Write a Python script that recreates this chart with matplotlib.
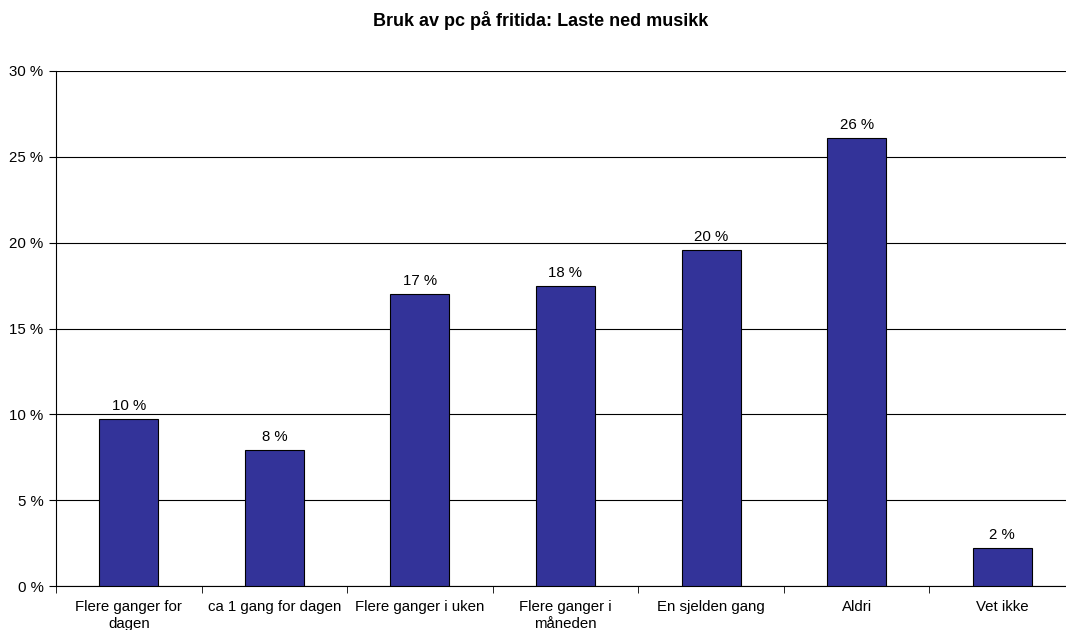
import matplotlib.pyplot as plt
import numpy as np

categories = ["Flere ganger for\ndagen", "ca 1 gang for dagen", "Flere ganger i uken",
              "Flere ganger i\nmåneden", "En sjelden gang", "Aldri", "Vet ikke"]
values = [9.7, 7.9, 17.0, 17.5, 19.6, 26.1, 2.2]
labels = ["10 %", "8 %", "17 %", "18 %", "20 %", "26 %", "2 %"]
yticks = [0, 5, 10, 15, 20, 25, 30]

plt.rcParams['font.family'] = ['Liberation Sans', 'DejaVu Sans']

W, H = 1066, 630
fig = plt.figure(figsize=(W / 100, H / 100), dpi=100)
left, right, top, bottom = 56, 1075, 71, 586
ax = fig.add_axes([left / W, 1 - bottom / H, (right - left) / W, (bottom - top) / H])

x = np.arange(len(categories))
ax.bar(x, values, width=0.405, color='#333399', edgecolor='black', linewidth=0.8, zorder=3)
for xi, v, lab in zip(x, values, labels):
    ax.text(xi, v + 0.35, lab, ha='center', va='bottom', fontsize=10.8)

ax.set_xlim(-0.5, len(categories) - 0.5)
ax.set_ylim(0, 30)
ax.set_yticks(yticks)
ax.set_yticklabels([f"{t} %" for t in yticks], fontsize=10.8)
ax.yaxis.grid(True, color='black', linewidth=0.8, zorder=0)

ax.set_xticks(x)
ax.set_xticklabels(categories, fontsize=10.8, linespacing=1.3)
ax.tick_params(axis='x', length=0, pad=10)
ax.set_xticks(np.arange(len(categories) + 1) - 0.5, minor=True)
ax.tick_params(axis='x', which='minor', length=5, direction='out', color='black')
ax.tick_params(axis='y', length=5, direction='out', color='black', pad=4)

for s in ['top', 'right']:
    ax.spines[s].set_visible(False)
ax.spines['left'].set_linewidth(0.8)
ax.spines['bottom'].set_linewidth(0.8)

fig.text(541 / W, 1 - 20 / H, "Bruk av pc på fritida: Laste ned musikk",
         ha='center', va='center', fontsize=13, fontweight='bold')

fig.savefig('out.png', dpi=100)
